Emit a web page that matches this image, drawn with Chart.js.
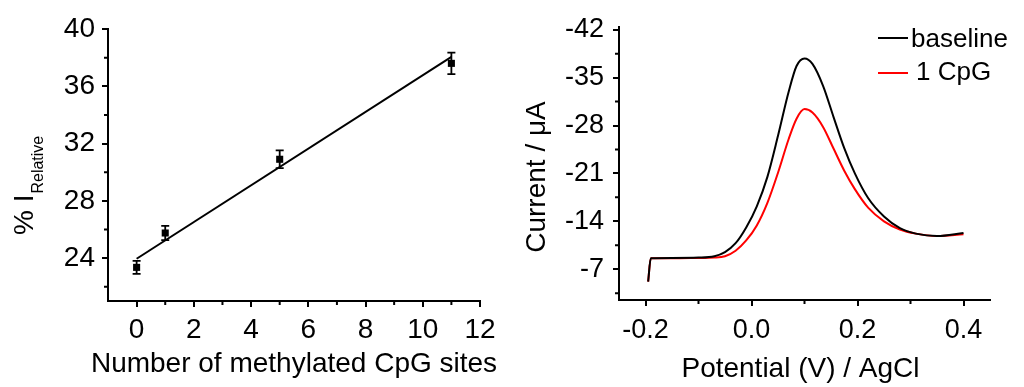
<!DOCTYPE html>
<html>
<head>
<meta charset="utf-8">
<script src="https://cdn.jsdelivr.net/npm/chart.js@4.4.1/dist/chart.umd.min.js"></script>
<style>
  html, body { margin: 0; padding: 0; background: #fff; }
  #wrap { position: relative; width: 1024px; height: 387px; }
  canvas { position: absolute; top: 0; }
</style>
</head>
<body>
<div id="wrap">
  <canvas id="leftChart" width="512" height="387" style="left:0"></canvas>
  <canvas id="rightChart" width="512" height="387" style="left:512px"></canvas>
</div>
<script>
// ---- left panel: relative current vs methylated CpG sites
const cpgSites = [0, 1, 5, 11];
const relCurrent = [23.35, 25.75, 30.9, 37.6];
const relError = [0.45, 0.5, 0.62, 0.75];
const fitX = [0, 11];
const fitY = [23.95, 38.05];
const leftXTicks = [0, 2, 4, 6, 8, 10, 12];
const leftXMinor = [1, 3, 5, 7, 9, 11];
const leftYTicks = [24, 28, 32, 36, 40];
const leftYMinor = [22, 26, 30, 34, 38];

// ---- right panel: DPV curves
const potential = [-0.195, -0.19, -0.15, -0.1, -0.07, -0.05, -0.03, -0.01, 0.01, 0.03, 0.05, 0.07,
  0.085, 0.1, 0.115, 0.135, 0.155, 0.175, 0.195, 0.22, 0.25, 0.28, 0.31, 0.35, 0.4];
const baseline = [-5.2, -8.6, -8.65, -8.7, -8.9, -9.5, -10.8, -13.1, -16.2, -20.5, -26.5, -32.9,
  -36.7, -37.8, -37.0, -33.8, -29.2, -24.7, -21.0, -17.4, -14.7, -13.0, -12.2, -11.85, -12.3];
const oneCpG = [-5.2, -8.6, -8.6, -8.65, -8.7, -8.9, -9.7, -11.2, -13.4, -16.7, -21.1, -26.0,
  -29.0, -30.4, -29.9, -27.8, -24.6, -21.4, -18.7, -16.0, -14.0, -12.8, -12.2, -11.85, -12.1];
const rightXTicks = [-0.2, 0, 0.2, 0.4];
const rightXMinor = [-0.1, 0.1, 0.3];
const rightYTicks = [-42, -35, -28, -21, -14, -7];
const rightYMinor = [-38.5, -31.5, -24.5, -17.5, -10.5, -3.5];

const FONT = '"Liberation Sans", Arial, sans-serif';

function axis(ticks, fontSize, pad, extra) {
  return Object.assign({
    type: 'linear',
    afterBuildTicks: s => { s.ticks = ticks.map(v => ({ value: v })); },
    ticks: {
      color: '#000',
      font: { family: FONT, size: fontSize },
      padding: pad,
      callback: v => v.toFixed(ticks.some(t => !Number.isInteger(t)) ? 1 : 0)
    },
    grid: { drawOnChartArea: false, color: '#000', lineWidth: 2, tickLength: 6 },
    border: { color: '#000', width: 2 }
  }, extra);
}

// minor ticks + titles, drawn after the chart
function decorPlugin(cfg) {
  return {
    id: 'decor',
    afterDraw(chart) {
      const { ctx } = chart;
      const xs = chart.scales.x, ys = chart.scales.y;
      ctx.save();
      ctx.strokeStyle = '#000';
      ctx.lineWidth = 2;
      ctx.beginPath();
      cfg.xMinor.forEach(v => {
        const p = xs.getPixelForValue(v);
        ctx.moveTo(p, xs.top); ctx.lineTo(p, xs.top + 4);
      });
      cfg.yMinor.forEach(v => {
        const p = ys.getPixelForValue(v);
        ctx.moveTo(ys.right, p); ctx.lineTo(ys.right - 4, p);
      });
      ctx.stroke();
      ctx.fillStyle = '#000';
      cfg.draw(ctx, chart.chartArea);
      ctx.restore();
    }
  };
}

const errorBarPlugin = {
  id: 'errorBars',
  afterDatasetsDraw(chart) {
    const { ctx } = chart;
    const xs = chart.scales.x, ys = chart.scales.y;
    ctx.save();
    ctx.strokeStyle = '#000';
    ctx.lineWidth = 1.8;
    ctx.beginPath();
    cpgSites.forEach((x, i) => {
      const px = xs.getPixelForValue(x);
      const top = ys.getPixelForValue(relCurrent[i] + relError[i]);
      const bot = ys.getPixelForValue(relCurrent[i] - relError[i]);
      ctx.moveTo(px, top); ctx.lineTo(px, bot);
      ctx.moveTo(px - 4, top); ctx.lineTo(px + 4, top);
      ctx.moveTo(px - 4, bot); ctx.lineTo(px + 4, bot);
    });
    ctx.stroke();
    ctx.restore();
  }
};

new Chart(document.getElementById('leftChart'), {
  type: 'scatter',
  data: {
    datasets: [
      {
        data: cpgSites.map((x, i) => ({ x, y: relCurrent[i] })),
        pointStyle: 'rect', pointRadius: 5, backgroundColor: '#000', borderColor: '#000', borderWidth: 0
      },
      {
        type: 'line',
        data: fitX.map((x, i) => ({ x, y: fitY[i] })),
        borderColor: '#000', borderWidth: 2, pointRadius: 0, fill: false
      }
    ]
  },
  options: {
    responsive: false,
    animation: false,
    layout: { padding: { top: 29, right: 32, left: 0, bottom: 0 } },
    plugins: { legend: { display: false }, tooltip: { enabled: false } },
    scales: {
      x: axis(leftXTicks, 28, 6, { min: -1, max: 12, afterFit: s => { s.height = 86; } }),
      y: axis(leftYTicks, 28, 7, { min: 21, max: 40, afterFit: s => { s.width = 108; } })
    }
  },
  plugins: [errorBarPlugin, decorPlugin({
    xMinor: leftXMinor, yMinor: leftYMinor,
    draw(ctx, ca) {
      ctx.textAlign = 'center';
      ctx.textBaseline = 'alphabetic';
      ctx.font = '28px ' + FONT;
      ctx.fillText('Number of methylated CpG sites', (ca.left + ca.right) / 2, 372);
      ctx.save();
      ctx.translate(33, 235);
      ctx.rotate(-Math.PI / 2);
      ctx.textAlign = 'left';
      ctx.font = '28px ' + FONT;
      ctx.fillText('% I', 0, 0);
      const w = ctx.measureText('% I').width;
      ctx.font = '16px ' + FONT;
      ctx.fillText('Relative', w + 1, 10);
      ctx.restore();
    }
  })]
});

new Chart(document.getElementById('rightChart'), {
  type: 'line',
  data: {
    datasets: [
      { label: 'baseline', data: potential.map((x, i) => ({ x, y: baseline[i] })), borderColor: '#000' },
      { label: '1 CpG', data: potential.map((x, i) => ({ x, y: oneCpG[i] })), borderColor: '#ff0000' }
    ]
  },
  options: {
    responsive: false,
    animation: false,
    layout: { padding: { top: 27, right: 34, left: 0, bottom: 0 } },
    elements: {
      line: { borderWidth: 2, cubicInterpolationMode: 'monotone', fill: false },
      point: { radius: 0 }
    },
    plugins: { legend: { display: false }, tooltip: { enabled: false } },
    scales: {
      x: axis(rightXTicks, 27, 8, { min: -0.25, max: 0.45, afterFit: s => { s.height = 87; } }),
      y: axis(rightYTicks, 27, 9, { min: -42.4, max: -2.5, reverse: true, afterFit: s => { s.width = 107; } })
    }
  },
  plugins: [decorPlugin({
    xMinor: rightXMinor, yMinor: rightYMinor,
    draw(ctx, ca) {
      ctx.textAlign = 'center';
      ctx.textBaseline = 'alphabetic';
      ctx.font = '28px ' + FONT;
      ctx.fillText('Potential (V) / AgCl', (ca.left + ca.right) / 2 - 4, 377);
      ctx.save();
      ctx.translate(33, 177);
      ctx.rotate(-Math.PI / 2);
      ctx.fillText('Current / \u03bcA', 0, 0);
      ctx.restore();
      // legend
      ctx.textAlign = 'left';
      ctx.font = '26px ' + FONT;
      ctx.lineWidth = 2;
      ctx.strokeStyle = '#000';
      ctx.beginPath(); ctx.moveTo(366, 38); ctx.lineTo(396, 38); ctx.stroke();
      ctx.fillText('baseline', 399, 47);
      ctx.strokeStyle = '#ff0000';
      ctx.beginPath(); ctx.moveTo(366, 73); ctx.lineTo(396, 73); ctx.stroke();
      ctx.fillText('1 CpG', 404, 80);
    }
  })]
});
</script>
</body>
</html>
